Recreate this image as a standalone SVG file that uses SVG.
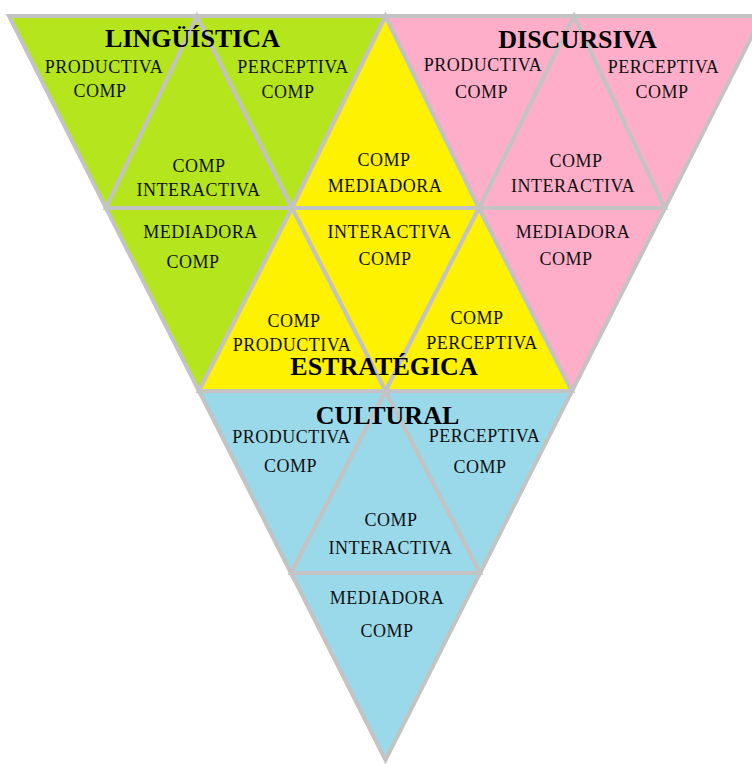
<svg xmlns="http://www.w3.org/2000/svg" width="752" height="764" viewBox="0 0 752 764">
<style>
.t{stroke:#c3c3c3;stroke-width:4;stroke-linejoin:miter}
.g{fill:#b5e61d}.y{fill:#fff200}.p{fill:#ffaec9}.b{fill:#99d9ea}
.l{font-family:"Liberation Serif","Times New Roman",serif;font-size:18px;letter-spacing:0.5px;fill:#111;text-anchor:middle}
.h{font-family:"Liberation Serif","Times New Roman",serif;font-size:26px;font-weight:bold;fill:#000;text-anchor:middle}
</style>
<rect width="752" height="764" fill="#fff"/>
<g id="linguistica">
<g id="ling-productiva"><polygon class="t g" points="9,16 197,16 106,208"/><text class="l" x="104" y="73">PRODUCTIVA</text><text class="l" x="100" y="97">COMP</text></g>
<g id="ling-interactiva"><polygon class="t g" points="197,16 106,208 292,208"/><text class="l" x="199" y="172">COMP</text><text class="l" x="198.5" y="196">INTERACTIVA</text></g>
<g id="ling-perceptiva"><polygon class="t g" points="197,16 385.5,16 292,208"/><text class="l" x="293" y="73">PERCEPTIVA</text><text class="l" x="288" y="98">COMP</text></g>
<g id="ling-mediadora"><polygon class="t g" points="106,208 292,208 199,391"/><text class="l" x="200.5" y="238">MEDIADORA</text><text class="l" x="193" y="268">COMP</text></g>
</g>
<g id="estrategica">
<g id="estr-mediadora"><polygon class="t y" points="385.5,16 292,208 479,208"/><text class="l" x="384" y="166">COMP</text><text class="l" x="385" y="192">MEDIADORA</text></g>
<g id="estr-interactiva"><polygon class="t y" points="292,208 479,208 385.5,391"/><text class="l" x="389.5" y="238">INTERACTIVA</text><text class="l" x="385" y="265">COMP</text></g>
<g id="estr-productiva"><polygon class="t y" points="292,208 199,391 385.5,391"/><text class="l" x="294" y="327">COMP</text><text class="l" x="292" y="351">PRODUCTIVA</text></g>
<g id="estr-perceptiva"><polygon class="t y" points="479,208 385.5,391 572,391"/><text class="l" x="477" y="324">COMP</text><text class="l" x="482" y="349">PERCEPTIVA</text></g>
</g>
<g id="discursiva">
<g id="disc-productiva"><polygon class="t p" points="385.5,16 574,16 479,208"/><text class="l" x="483" y="71">PRODUCTIVA</text><text class="l" x="481.5" y="98">COMP</text></g>
<g id="disc-interactiva"><polygon class="t p" points="574,16 479,208 665,208"/><text class="l" x="576" y="167">COMP</text><text class="l" x="573" y="192">INTERACTIVA</text></g>
<g id="disc-perceptiva"><polygon class="t p" points="574,16 762,16 665,208"/><text class="l" x="663.5" y="73">PERCEPTIVA</text><text class="l" x="662" y="98">COMP</text></g>
<g id="disc-mediadora"><polygon class="t p" points="479,208 665,208 572,391"/><text class="l" x="573" y="238">MEDIADORA</text><text class="l" x="566" y="265">COMP</text></g>
</g>
<g id="cultural">
<g id="cult-productiva"><polygon class="t b" points="199,391 385.5,391 291,573"/><text class="l" x="291.5" y="443">PRODUCTIVA</text><text class="l" x="290.5" y="472">COMP</text></g>
<g id="cult-interactiva"><polygon class="t b" points="385.5,391 291,573 480,573"/><text class="l" x="391" y="526">COMP</text><text class="l" x="390.5" y="554">INTERACTIVA</text></g>
<g id="cult-perceptiva"><polygon class="t b" points="385.5,391 572,391 480,573"/><text class="l" x="484.5" y="442">PERCEPTIVA</text><text class="l" x="480" y="473">COMP</text></g>
<g id="cult-mediadora"><polygon class="t b" points="291,573 480,573 385.5,760"/><text class="l" x="387" y="604">MEDIADORA</text><text class="l" x="387" y="637">COMP</text></g>
</g>
<g id="titles">
<text id="title-linguistica" class="h" x="192.5" y="47">LINGÜÍSTICA</text>
<text id="title-discursiva" class="h" x="577.5" y="48">DISCURSIVA</text>
<text id="title-estrategica" class="h" x="384" y="375">ESTRATÉGICA</text>
<text id="title-cultural" class="h" x="387.5" y="424">CULTURAL</text>
</g>
</svg>
